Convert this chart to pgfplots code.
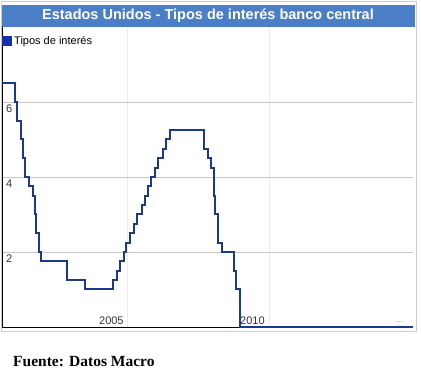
\documentclass[border=0pt]{standalone}
\usepackage{pgfplots}
\pgfplotsset{compat=1.18}
\usepackage{fontspec}
\setmainfont{Liberation Sans}
\newfontfamily\serif{Liberation Serif}
\definecolor{titlebar}{RGB}{74,126,199}
\definecolor{rateline}{RGB}{28,58,140}
\definecolor{legblue}{RGB}{20,50,170}
\definecolor{gridy}{RGB}{200,200,200}
\definecolor{gridx}{RGB}{235,235,235}
\definecolor{frame}{RGB}{205,205,205}
\pgfplotstableread{
x y
2000.54 6.5
2001.00 6.0
2001.08 5.5
2001.21 5.0
2001.29 4.5
2001.37 4.0
2001.49 3.75
2001.64 3.5
2001.71 3.0
2001.75 2.5
2001.85 2.0
2001.94 1.75
2002.85 1.25
2003.48 1.0
2004.49 1.25
2004.61 1.5
2004.72 1.75
2004.86 2.0
2004.95 2.25
2005.09 2.5
2005.22 2.75
2005.33 3.0
2005.49 3.25
2005.60 3.5
2005.72 3.75
2005.83 4.0
2005.95 4.25
2006.08 4.5
2006.24 4.75
2006.36 5.0
2006.49 5.25
2007.71 4.75
2007.83 4.5
2007.94 4.25
2008.05 3.5
2008.08 3.0
2008.21 2.25
2008.33 2.0
2008.77 1.5
2008.82 1.0
2008.96 0.0
2015.11 0.0
}\rates
\begin{document}
\begin{tikzpicture}[x=1pt,y=1pt]
\useasboundingbox (0,0) rectangle (421,379);
\draw[frame, line width=0.8pt] (1,48) rectangle (416,378);
\begin{axis}[
  at={(2pt,52pt)}, anchor=origin,
  scale only axis, width=411pt, height=300pt,
  xmin=2000.54, xmax=2015.11, ymin=0, ymax=8,
  axis x line=bottom, axis y line=left,
  axis line style={-, black, line width=0.8pt},
  xtick={2005,2010}, xticklabels={2005,2010},
  ytick={2,4,6}, yticklabels={2,4,6},
  major tick length=0pt,
  tick label style={font=\fontsize{11}{13}\selectfont, text=black!80},
  xticklabel style={anchor=south east, xshift=-3pt, yshift=1pt, inner sep=1pt},
  yticklabel style={anchor=north west, xshift=3pt, yshift=-2pt, inner sep=1pt},
  ymajorgrids, xmajorgrids,
  y grid style={gridy, line width=0.7pt},
  x grid style={gridx, line width=0.7pt},
  legend style={at={(0pt,286pt)}, anchor=west, draw=none, fill=none, inner sep=0pt,
    font=\fontsize{11}{13}\selectfont, legend cell align=left},
  legend image code/.code={\fill[legblue] (0pt,-4pt) rectangle (8pt,4pt);},
  clip=false,
]
\addplot[const plot, rateline, line width=2pt] table[x=x,y=y] {\rates};
\addlegendentry{Tipos de interés}
\end{axis}
\fill[titlebar] (2,352) rectangle (415,374);
\node[text=white, font=\bfseries\fontsize{14.5}{16}\selectfont] at (208,363) {Estados Unidos - Tipos de interés banco central};
\node[anchor=base west, inner sep=0pt, font=\serif\bfseries\fontsize{15.5}{17}\selectfont] at (13,12) {Fuente: Datos Macro};
\node[text=black!50, font=\fontsize{8}{9}\selectfont] at (400,57) {...};
\end{tikzpicture}
\end{document}
